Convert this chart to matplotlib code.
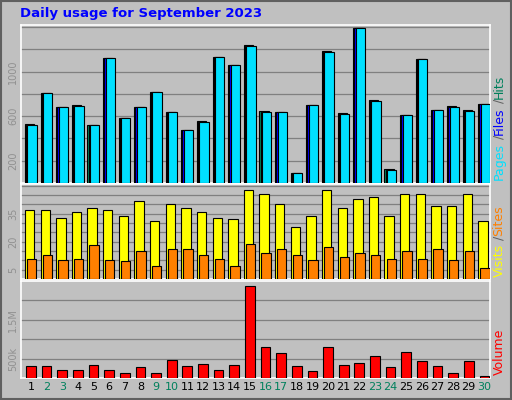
import matplotlib
matplotlib.use("Agg")
import matplotlib.pyplot as plt
import numpy as np

days = list(range(1, 31))
weekend = [2, 3, 9, 10, 16, 17, 23, 24, 30]
hits = [533, 809, 679, 697, 524, 1124, 579, 679, 818, 633, 479, 554, 1133, 1061, 1242,
        645, 633, 88, 697, 1188, 624, 1388, 743, 124, 606, 1115, 651, 688, 651, 706]
files = [523, 809, 679, 688, 524, 1124, 579, 679, 818, 633, 479, 543, 1133, 1061, 1233,
         633, 633, 88, 697, 1173, 615, 1388, 733, 115, 606, 1115, 651, 679, 643, 706]
pages = files
visits = [37, 37, 33, 36, 38, 37, 34, 42, 31, 40, 38, 36, 33, 32, 48,
          45.5, 40, 28, 34, 48, 38, 43, 44, 34, 45.5, 45.5, 39, 39, 45.5, 31]
sites = [11, 13, 10, 11, 18, 10, 9.5, 15, 7, 16, 16, 13, 11, 7, 19,
         14, 16, 13, 10, 17, 12, 14, 13, 11, 15, 11, 16, 10, 15, 6]
volume_k = [298, 298, 219, 219, 325, 219, 140, 272, 140, 456, 298, 351, 219, 325, 2377,
            798, 640, 298, 193, 798, 325, 377, 561, 272, 667, 430, 298, 140, 430, 61]

W, H = 512, 400
BG = "#C0C0C0"
fig = plt.figure(figsize=(W / 100, H / 100), dpi=100, facecolor=BG)
fig.patches.append(matplotlib.patches.Rectangle((0.002, 0.002), 0.996, 0.996, transform=fig.transFigure,
                   fill=False, edgecolor="#606060", lw=1.5))

def ax_px(x0, y0, x1, y1):
    return fig.add_axes([x0 / W, 1 - y1 / H, (x1 - x0) / W, (y1 - y0) / H])

L, R = 21, 490
axes = [ax_px(L, 25, R, 183), ax_px(L, 184, R, 279), ax_px(L, 281, R, 378)]
x = np.array(days)
for ax in axes:
    ax.set_facecolor(BG)
    ax.set_xlim(0.5, 30.5)
    ax.set_xticks([])
    for s in ax.spines.values():
        s.set_color("white")
        s.set_linewidth(1.2)
    ax.tick_params(axis="y", length=0, labelsize=7, labelcolor="#909090", pad=2)

ek = dict(edgecolor="black", linewidth=0.8, align="edge", zorder=3)
a = axes[0]
a.set_ylim(0, 1418)
for g in range(200, 1418, 200):
    a.axhline(g, color="#808080", lw=0.9, zorder=1)
a.bar(x - 0.25, hits, 0.6, color="#00805C", **ek)
a.bar(x - 0.18, files, 0.6, color="#0000FF", **ek)
a.bar(x - 0.09, pages, 0.59, color="#00E0FF", **ek)
a.set_yticks([200, 600, 1000])

a = axes[1]
a.set_ylim(0, 51)
for g in range(5, 51, 5):
    a.axhline(g, color="#808080", lw=0.9, zorder=1)
a.bar(x - 0.25, visits, 0.6, color="#FFFF00", **ek)
a.bar(x - 0.12, sites, 0.6, color="#FF8000", **ek)
a.set_yticks([5, 20, 35])

a = axes[2]
a.set_ylim(0, 2500)
for g in range(500, 2500, 500):
    a.axhline(g, color="#808080", lw=0.9, zorder=1)
a.bar(x - 0.17, volume_k, 0.62, color="#FF0000", **ek)
a.set_yticks([500, 1500])
a.set_yticklabels(["500k", "1.5M"])

for ax in axes:
    for lab in ax.get_yticklabels():
        lab.set_rotation(90)
        lab.set_va("center")

for d in days:
    fig.text((L + (d - 0.36) / 30 * (R - L)) / W, 1 - 387 / H, str(d), ha="center", va="center",
             fontsize=8, color="#00805C" if d in weekend else "black")

fig.text(20 / W, 1 - 14 / H, "Daily usage for September 2023", color="#0000FF",
         fontsize=9.5, fontweight="bold", va="center", ha="left")

def vlabel(y, parts):
    yy = y
    for txt, col in parts:
        t = fig.text(499 / W, yy / H, txt, rotation=90, color=col, fontsize=9,
                     ha="center", va="bottom")
        fig.canvas.draw()
        bb = t.get_window_extent()
        yy += bb.height
vlabel(400 - 180, [("Pages", "#00E0FF"), (" /", "#606060"), ("Files", "#0000FF"), (" /", "#606060"), ("Hits", "#00805C")])
vlabel(400 - 277, [("Visits", "#FFFF00"), (" /", "#606060"), ("Sites", "#FF8000")])
vlabel(400 - 375, [("Volume", "#FF0000")])

fig.savefig("out.png", dpi=100, facecolor=BG)
